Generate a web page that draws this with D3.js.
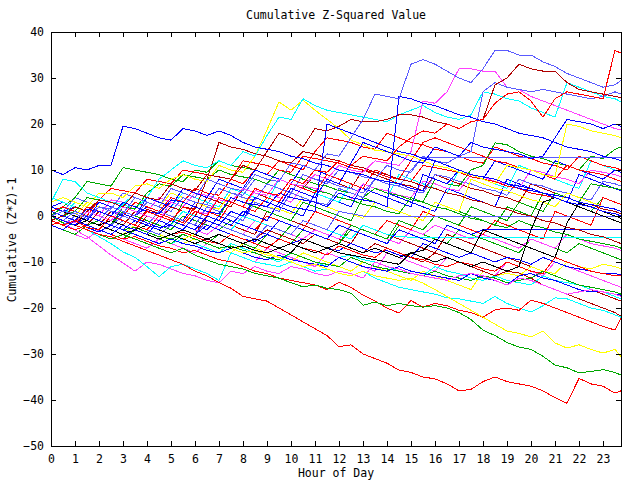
<!DOCTYPE html>
<html><head><meta charset="utf-8">
<script src="https://cdn.jsdelivr.net/npm/d3@7"></script>
<style>
body{margin:0;background:#fff}
text{font-family:"DejaVu Sans Mono",monospace;font-size:11.5px;fill:#000}
</style>
</head><body>
<svg id="chart" width="640" height="480"></svg>
<script>
// ---- data ----
const hours = [0,0.5,1,1.5,2,2.5,3,3.5,4,4.5,5,5.5,6,6.5,7,7.5,8,8.5,9,9.5,10,10.5,11,11.5,12,12.5,13,13.5,14,14.5,15,15.5,16,16.5,17,17.5,18,18.5,19,19.5,20,20.5,21,21.5,22,22.5,23,23.5,23.75];
const hourTicks = [0,1,2,3,4,5,6,7,8,9,10,11,12,13,14,15,16,17,18,19,20,21,22,23];
const valueTicks = [-50,-40,-30,-20,-10,0,10,20,30,40];

const sA = [10,9,10.5,10,11,11,19.5,19,18,17,16.5,19, 18.5,17.5,18.5,17.5,16,15,14.5,14,13,12.5,11.5,11, 10,9.5,9,8,7.5,7,6,5.5,12,11,10,9, 8.5,8,7,6.5,6,5,4.5,4,3,2.5,2,1.5, 1];
const sB = [0,1,0.5,-0.5,2,1,0.5,4,3,2,6,5, 4,8,7,6,5.5,9,8,7.5,11.5,11,10,13.5, 13,17,21,26.5,26,25.5,33,34,33,31.5,30,29, 32,36,36,35,35,33.5,32.5,31,30,29,28,28.5, 29.5];
const sC = [0,-1,-1.5,1,0,-1,2,1,0,-1,3,2, 1,0.5,4,3,6,5,4.5,8,7,6.5,9,8, 11,10,9.5,12,11.5,11,14,25,24.5,27,32,32, 31.5,31.5,28,27.5,26,25,24,23,22,21,20,19, 18.7];
const sD = [3,8,7.5,5,4,3,2.5,5,4,8,10,12, 11,10.5,12,11,14,13,17.5,21.5,21,25.5,24,23, 22.5,22,21.5,21,20.5,22,23,24,22.5,21.5,21,22, 27,26.5,25.5,25,23.5,22.5,21.5,29,28,27,26,25.5, 24.8];
const sE = [1,0,2,1,3.5,3,2,5,4,3.5,7,6, 5.5,9,8.5,8,11,10,14,18,17,15,19,18.5, 19.5,21,20.5,20.5,21,22,22,21.5,20.5,20,19,20.5, 21,28.5,30,33,32,31.5,31.5,29,27.5,27,26.5,26, 25.7];
const sF = [-1,-2,-1,-2.5,-3,0,-1,-2,1,0,-1,2, 1,0,4,3,2,6,5,4.5,8,7,10,9.5, 12,11,13,12.5,12,15,17,18.5,18,20,19,20.5, 21,24.5,26.5,27,25,21.5,25.5,27,26.5,26,25.5,36, 35.4];
const sG = [-2,-3,-1,-2,-3,-4,-2,-3,-4,-1,-2,-3, 0,-1,-2,1,0,4,3,2,6,5,4,8, 7,11.5,16,15,14,13,12,11.5,15,14,13,16, 15,14.5,14,13.5,12.5,13,17,21,20.5,20,19,20, 19.5];
const sH = [0,-1,-2,0,-1,-2,-3,-1,-2,-3,-1,-2, -3,0,-1,-2,1,0,-1,3,2,1.5,1,20, 19,18,17,16,15,14,13.5,12.5,12,11,10,9, 8.5,8,7,6,5.5,5,4,3,2.5,2,1,0.5, 0];
const sI = [1,0,-1,1.5,1,0,3,2,1,0.5,3.5,3, 2,1,0.5,4,3,2.5,2,5,4,3.5,3,2, 5,4,3.5,3,2,26,25.5,24.5,24,23,22,21.5, 20.5,20,19,18,17.5,17,16,15,14.5,14,13,12.5, 12];
const sJ = [0,-1,1,0,-1,-2,0,-1,-2,1,0,-1, -2,2,1,0,-1,3,2,1,5,4,3,2.5, 6,5,4,8,7,6.5,10,12.8,12.8,12.8,12.8,12.8, 12.8,12.8,12.8,12.8,12.8,12.8,12.8,12.8,12.8,12.8,12.8,12.8, 12.8];
const sK = [-1,-2,0,-1,-2,-3,-1,-2,-3,-4,-2,-3, -4,-1,-2,-3,-4,-5,-2,-3,-4,-1,-2,-3, 1,0.5,0,0,0,0,0,0,0,0,0,0, 0,0,0,0,0,0,0,0,0,0,0,0, 0];
const sL = [2,1,0,-1,2,1,0,-1,-2,1,0,-1, -2,-3,0,-1,-2,-3,-4,-1,-2,-3,-4,-5, -2,-3,-4,-5,-6,-3,-4,-5,-6,-2,-3,-4, -3,-3,-3,-3,-3,-3,-3,-3,-3,-3,-3,-3, -3];
const sM = [4,3,2,1,0,-1,2,1,0,-1,-2,1, 0,-1,-2,-3,0,-1,-2,-3,-4,-1,-2,-3, -4,-5,-2,-3,-4,-4.5,-4.6,-4.6,-4.6,-4.6,-4.6,-4.6, -4.6,-4.6,-4.6,-4.6,-4.6,-4.6,-4.6,-4.6,-4.6,-4.6,-4.6,-4.6, -4.6];
const sN = [0,-1,-2,-3,-4,-4.5,-5.5,-6.5,-7.5,-8.5,-9.5,-10.5, -12,-13,-14.5,-15.7,-17.5,-18,-18.5,-20,-21.5,-23,-24.5,-26, -28.4,-28,-30,-31,-32,-33.5,-34,-35,-35.4,-36.5,-38,-37.7, -36,-35,-36,-36.5,-37,-38,-39.5,-40.7,-35.3,-36.5,-37,-38.5, -38];
const sO = [0,-1.5,-2,-3,-4,-5,-4,-5,-6,-7,-8,-7, -8.5,-9.5,-10.5,-11,-11.5,-12.5,-13,-13.5,-14.5,-15.4,-15,-15.7, -16,-16.8,-19.4,-18.7,-19.5,-19,-19.5,-19.8,-19.5,-20,-21,-22.5, -24.8,-26,-27.5,-28.5,-29,-30.5,-32.4,-33,-34.1,-33.8,-33.4,-34, -34.6];
const sP = [1,0,-1,1,0,-1,-2,-3,-2,-3,-4,-5, -4,-5,-6,-7,-8,-7.5,-8.5,-9,-10,-11,-10.5,-11.5, -12.5,-13,-12,-13,-13.5,-14,-13.5,-14.6,-16,-17.5,-19,-20.5, -22,-23.5,-25,-25.5,-26.3,-25,-27.6,-28.7,-28,-29,-29.8,-29, -30.6];
const sQ = [-1,-2,-3,-2,-3,-4,-5,-4.5,-5.5,-6.5,-7,-8, -7.5,-8.5,-9.5,-10,-11,-12,-12.5,-13.5,-14,-14.5,-15,-16, -14.4,-15.5,-17.2,-18.5,-20,-21.1,-18.4,-19.8,-19,-19.5,-20.5,-21, -22,-20.4,-20,-20.5,-18.3,-19,-20,-21,-22,-23,-24,-24.8, -22.2];
const sR = [0,-1,-2,-3,-4.5,-6,-7.8,-9,-11,-13.2,-11,-10.5, -11.5,-12.5,-14,-8,-9,-10,-10.5,-11,-10,-11,-12,-11.5, -12.5,-13,-12,-13.5,-14.5,-15.5,-16,-16.5,-17,-17.8,-18,-18.5, -19,-17.5,-19,-20,-20.9,-19.5,-17.8,-18,-19,-20,-20.5,-21.5, -22];
const sS = [0,-1.5,-3,-4.5,-6.5,-8.5,-10.2,-12,-10,-10.5,-11.5,-12.5, -13,-14,-14.5,-12,-12.5,-11,-12,-12.5,-11,-11.5,-12.5,-13, -12,-12.5,-13.5,-10,-11,-11.5,-12.5,-13,-13.5,-14,-13,-12.5, -13,-14,-15,-13.5,-14,-15,-16,-17,-16.5,-16,-16.5,-17, -17.5];
const sT = [1,0,-1,-2,-1,-2,-3,-2.5,-3.5,-4.5,-5,-4, -5,-6,-7,-6.5,-7.5,-8,-9,-9.5,-8,-9,-10,-10.5, -11,-9,-10,-11,-11.5,-12,-12.5,-13,-12,-13,-13.5,-14, -13,-13.5,-14.5,-14,-13.5,-12,-13,-14,-15,-15.5,-16,-16.5, -17];
const sU = [-1,-2,-1,-2.5,-3.5,-2,-3,-4,-5,-6,-5,-6, -6.5,-7.5,-8,-7,-8,-9,-9.5,-8.5,-9.5,-10,-10.5,-11, -9,-10,-11,-11.5,-12,-11,-12,-12.5,-13,-13.5,-14,-12.5, -13.5,-14,-15,-13,-12.5,-13.5,-14,-15,-16,-16.5,-16.5,-17, -17.2];
const sV = [2,3,2,1,0,-1,0.5,-0.5,-1.5,-2.5,-2,-3, -4,-2,-3,-4,-5,-5.5,-4,-5,-6,-5,-6,-7, -7.5,-6,-7,-8,-7.5,-8.5,-9,-6,-7,-8,-9,-8, -9,-10,-9,-9.5,-10.5,-9,-10,-11,-11.5,-12,-12.5,-12.5, -12.8];
const sW = [-2,-1,-2,0,-1,-2,-3,-1,-2,-3,-4,-3.5, -4.5,-5.5,-6,-4,-5,-6,-7,-5,-6,-7,-7.5,-8.5, -6.5,-7.5,-8.5,-9,-7,-8,-9,-9.5,-10.5,-11,-10,-10.5, -11.5,-12,-10,-11,-12,-12.5,-9,-10,-11,-12,-12.5,-13, -13];
const sX = [2,1,0,3,2,1,0.5,4,3,2,5,4, 3,2,1.5,5,4,3,2,1.5,0.5,4,3,2, 1,0.5,-0.5,3,2,1,0,-1,3,2,1,8, 7,6,5.5,4.5,3.5,3,2,5,4,3,2,1.5, 1];
const sY = [3,4,3,2,5,5,4,6.5,7,6,8,9, 8,7.5,11,10,9.5,13,18.7,24.8,23,25.2,23,21, 19,16.5,15.5,14.3,14,13.5,13,12,11,10.5,9.5,9, 8,7,11,10.5,10,9,8.5,20,19.5,18.5,18,17.5, 17];
const sZ = [-1,0,1,4,3.5,3,2,1.5,5,7,6.5,9, 8.5,8,10,9,8.5,8,7,10,9,8,7,6.5, 5.5,5,4,6,5,4.5,3.5,3,8,7,6.5,10, 11,15.9,15.5,14,13,12.5,11.5,11,10,13,12.5,14.5, 15];
const sAA = [0,2,4,7.5,7,6.5,10.5,10,9.5,9,8,7.5, 10,9.5,12,11,10.5,10,9,8,7,6.5,5.5,5, 4,3.5,2.5,2,1,0.5,4,3,2,1.5,0.5,-0.5, -1,-2,-2.5,-1,-2,-2.5,-3.5,-4,-5,-5.5,-6,-6.5, -7];
const sBB = [1,2,1,0,3.5,6,5.5,5,8,7.5,7,10, 9.5,9,8.5,8,12,11.5,11,10,9.5,13,12.5,12, 11.5,10.5,10,9.5,8.5,8,7.5,11,10.5,10,9.5,8.5, 8,7.5,6.5,6,5,4.5,4,3,2.5,2,1,0.5, 0];
const sCC = [0,1,0,-1,-2,1,0,-1,-2,-3,-1,-2, -3,-1,-2,-3,-4,-5,-3,-4,-5,-6,-4,-5, -6,-7,-8,-6,-7,-8,-9,-10,-8,-9,-10,-11, -12,-13,-12,-12.4,-13.5,-15,-16,-17,-18,-19,-20,-21, -21.8];
const sDD = [0,-1,-2,-1,-2,-3,-4,-3,-4,-5,-4,-5, -6,-5,-6,-7,-6.5,-7.5,-8,-7,-8,-5,-6,-7, -8,-8.5,-9,-9.5,-10,-10.5,-8,-7.5,-5,-6,-7,-8, -3,-4,-5,-6,-7,-8,-9,-1.5,2.8,2,1,0, -0.5];
const sEE = [-1,0,-1,-2,1,0,-1,-2,-3,0,-1,-2, -3,-4,-2,-3,-4,-1,-2,-3,-4,-5,-3,-4, -5,-2,-3,-4,-5,-6,-3,-4,-2,-3,-4,-5, -4,-5,-6,-7,-5,-6,-7,-4,-5,-6,-6.5,-7, -7.5];
const sFF = [-1,-2,-1,-2,-3,-4,-2,-3,-4,-5,-6,-5, -6,-7,-8,-6,-7,-8,-9,-10,-8,-9,-10,-11, -9,-8.5,-9.5,-10,-11,-12,-12.5,-13,-11,-12,-12.5,-13.5, -14,-13,-14,-14.5,-15,-13,-14,-14.5,-15,-16,-16.5,-17.5, -18];
const sGG = [2,1,4,3,2,1.5,5,4,3,2,1,4, 3,2.5,1.5,5,4.5,8,7,6,5,9,8,7.5, 6.5,6,5,8,7,6.5,5.5,5,9,8.5,7.5,7, 6,5.5,4.5,8,7,6.5,5.5,5,4,3.5,7.5,7, 6.5];
const sHH = [1,0,2,1,0,3.5,3,2,1,4,3,2, 5,4.5,3.5,3,2,5.5,5,4,3,6.5,6,5, 4,3.5,7,6,5.5,4.5,4,7.5,7,6,5.5,9, 8.5,7.5,7,6,10,9.5,8.5,8,7,10,9.5,9, 8.5];
const sJJ = [0,-1,-1.5,2,1,0,-1,-2,1.5,0.5,-0.5,-1.5, 2,1,0,-1,-2,-3,0,-1,-2,-3,1,0, -1,-2,-3,-4,-1,-2,-3,1,0,-1,-2,-3, -4,-1,-2,-3,-4,-5,1,0,-1,-2,4,3, 2.5];
const sKK = [-2,-3,-4,-2,-3,-4,-5,-3,-4,-5,-6,-4, -5,-6,-4,-5,-6,-7,-4,-5,-6,-3,-4,-5, -6,-2,-3,-4,-5,-1,-2,-3,0,-1,-2,2, 1,0,-1,3,2,1,5,4,3,7,6.5,6, 5.7];
const sNN = [-1,0,-1,-2,1,0,-1,-2,-3,0,-1,-2, 1,0,-1,3,2,1,4,3,7,6,5,9, 8,7,6,10,9,8,12,16,17,16,15,14, 13,12,11.5,10.5,10,9,8,11,10,9.5,9,8, 7.5];
const sPP = [0,-1,1,0,-1,2,1,0,3,2,1,4, 3,2.5,6,5,4,3.5,7,6,5,9,8,7, 10,9.5,8.5,8,11,10,9.5,13,12,11.5,13,14, 27,29,28,27.5,27,27.5,27,26.5,26,25.5,26,27, 26.5];
const sRR = [-1,0,-1,-2,1,0,-1,-2,1.5,0.5,3,2, 1.5,8,16,15,14.5,13.5,13,12,11.5,14,13.5,12.5, 12,11,10.5,9.5,9,8,7.5,6.5,6,5,4.5,3.5, 3,2,1.5,0.5,0,-1,-1.5,-2.5,-3,-4,-4.5,-5.5, -6];
const sS2 = [-1,-2,0,-1,-2,-3,-4,-2,-3,-4,-5,-6, -5,-6,-7,-8,-6,-7,-8,-9,-10,-8,-9,-10, -11,-12,-10,-11,-12,-13,-14,-12,-13,-14,-15,-16, -12,-13,-12.5,-13,-11,-12,-12.5,-10,-11,-11.5,-10.5,-11, -11.5];
const sT2 = [1,2,1,0,-1,-2,1,0,-1,-2,-3,0, -1,-2,-3,-1,-2,-3,-4,-5,-2,-3,-4,-5, -6,-3,-4,-5,-6,-2,-3,-4,-5,-6,-3,-4, -5,-6,-7,-8,-5,-6,-7,-8,-6,-7,-8,-9, -9.5];
const sU2 = [0,1,2,1,3,2,1,0,2,1,0,-1, 3,2,1,0,-1,4,3,2,1,0,5,4, 3,2,7,6,5,4,3,2,1,6,5,4, 3,2,8,7,6,5,4,3,9,8,7,6, 5.5];
const sV2 = [-2,-3,-4,-5,-3,-4,-5,-6,-7,-5,-6,-7, -8,-6,-7,-8,-9,-10,-7,-8,-9,-10,-11,-8, -9,-10,-11,-12,-8,-9,-10,-11,-12,-9,-10,-11, -12,-13,-10,-11,-12,-13,-10,-11,-12,-13,-14,-15, -15.5];
const sW2 = [1,0,3,2,1,0,2.5,1.5,4,3,2,5, 4,3,2,6,5,4,3,8,7,6,5,4, 3,7,6,5,4,9,8,7,6,5,10,9, 8,7,6,11,10,9,8,7,6,12,11,10, 9.5];
const sX2 = [0,-1,-2,1,0,-1,-2,-3,0,-1,-2,-3, -4,0,-1,-2,-3,-4,1,0,-1,-2,-3,-4, -5,-6,-2,-3,-4,-5,-6,-7,-8,-4,-5,-6, -7,-8,-9,-10,-11,-12,-13,-14,-15,-16,-17,-18, -18.5];
const sY2 = [0,1,0,-1,3,2,1,0,4,3,2,6, 5,4,8,7,6,10,9,8,7,11,10,9, 8,7,6,5,4,3,2,9,8,7,10,9, 8,12,11,10,9,8,12,11,10,9,8,10, 9.5];
const sZ2 = [0,1,0,-1,-2,-1,-2,-3,-2,-3,-4,-3, -4,-5,-4,-5,-6,-5,-6,-7,-6,-7,-8,-7, -6,-7,-8,-7,-8,-9,-8,-9,-10,-9,-10,-11, -10,-11,-12,-11,-3,3,4,3,2,1,0,-1, -1.5];
const sR2 = [0,1,0,-1,2,1,0,3,2,1,4,3, 6,5,4.5,8,7,10,9,12,11,10,14,17, 16.5,16,15,14.5,18,17,16,15.5,14.5,14,13,12, 11.5,15,14,13,12.5,11.5,11,10,13,12,11,10.5, 10];
const sD2 = [-1,0,-1,1,0,-1,-2,1,0,-1,2,1, 0,4,3,2,6,5,4,3,7,6,9,8, 7,6,10,9,8,7,6.5,5.5,9,8,7,6, 5.5,4.5,4,3,7,6,5,4,3,2.5,1.5,1, 0.5];
const sG2 = [0,-1,1,0,-1,-2,2,1,0,-1,-2,3, 2,1,0,4,3,2,1,0,-1,3,2,1, 0,-1,4,3,2,1,0,-1,3,2,1,0, -1,-2,2,1,0,5,4,3,2,1,4,3, 2.5];

// palette
const RED = "#ff0000", GREEN = "#00a800", BLUE = "#0000ff", MAGENTA = "#ff40ff",
      CYAN = "#00ffff", YELLOW = "#ffff00", BLACK = "#000000", DARKRED = "#b00000", SLATE = "#5a5aff";

const seriesList = [
  [sT2, GREEN],[sU2, BLUE],[sV2, MAGENTA],[sW2, CYAN],[sX2, DARKRED],[sS2, YELLOW],
  [sG2, GREEN],[sD2, DARKRED],[sR2, RED],
  [sEE, MAGENTA],[sFF, CYAN],[sGG, SLATE],[sHH, MAGENTA],[sJJ, RED],[sKK, GREEN],
  [sX, YELLOW],[sZ, GREEN],[sAA, GREEN],[sBB, RED],[sCC, DARKRED],[sY2, BLUE],
  [sT, GREEN],[sU, BLUE],[sV, BLUE],[sW, RED],[sS, MAGENTA],[sR, CYAN],
  [sQ, RED],[sP, YELLOW],[sO, GREEN],[sN, RED],
  [sM, CYAN],[sL, BLUE],[sK, SLATE],[sJ, SLATE],
  [sNN, RED],[sRR, DARKRED],[sDD, BLACK],[sZ2, BLACK],
  [sY, YELLOW],[sD, CYAN],[sC, MAGENTA],[sPP, SLATE],[sE, DARKRED],
  [sI, BLUE],[sH, BLUE],[sG, BLUE],[sA, BLUE],[sB, SLATE],[sF, RED]
];

// ---- drawing ----
const L = 51, R = 621, T = 32, B = 446;
const svg = d3.select("#chart");
svg.append("rect").attr("width",640).attr("height",480).attr("fill","#fff");

const x = d3.scaleLinear().domain([0, 23.75]).range([L, R]);
const y = d3.scaleLinear().domain([-50, 40]).range([B, T]);

svg.append("defs").append("clipPath").attr("id","plot")
  .append("rect").attr("x",L).attr("y",T).attr("width",R-L).attr("height",B-T);

const line = d3.line().x((d,i)=>x(hours[i])).y(d=>y(d));
const g = svg.append("g").attr("clip-path","url(#plot)");
seriesList.forEach(([vals,col])=>{
  g.append("path").attr("d", line(vals)).attr("fill","none")
    .attr("stroke", col).attr("stroke-width",1)
    .attr("shape-rendering","crispEdges");
});

function styleAxis(sel){
  sel.select(".domain").remove();
  sel.selectAll("line").attr("stroke","#000").attr("shape-rendering","crispEdges");
  sel.selectAll("text").attr("font-family",null).attr("font-size",null).attr("fill","#000");
}
svg.append("g").attr("transform",`translate(0,${B})`)
  .call(d3.axisBottom(x).tickValues(hourTicks).tickSize(-5).tickPadding(9).tickFormat(d3.format("d")))
  .call(styleAxis);
svg.append("g").attr("transform",`translate(0,${T})`)
  .call(d3.axisTop(x).tickValues(hourTicks).tickSize(-5).tickFormat(""))
  .call(styleAxis);
svg.append("g").attr("transform",`translate(${L},0)`)
  .call(d3.axisLeft(y).tickValues(valueTicks).tickSize(-5).tickPadding(7).tickFormat(d3.format("d")))
  .call(styleAxis);
svg.append("g").attr("transform",`translate(${R},0)`)
  .call(d3.axisRight(y).tickValues(valueTicks).tickSize(-5).tickFormat(""))
  .call(styleAxis);

svg.append("rect").attr("x",L+0.5).attr("y",T+0.5).attr("width",R-L).attr("height",B-T)
  .attr("fill","none").attr("stroke","#000").attr("shape-rendering","crispEdges");

svg.append("text").attr("x",336).attr("y",19).attr("text-anchor","middle").text("Cumulative Z-Squared Value");
svg.append("text").attr("x",336).attr("y",477).attr("text-anchor","middle").text("Hour of Day");
svg.append("text").attr("transform","translate(16,240) rotate(-90)").attr("text-anchor","middle").text("Cumulative (Z*Z)-1");
</script>
</body></html>
